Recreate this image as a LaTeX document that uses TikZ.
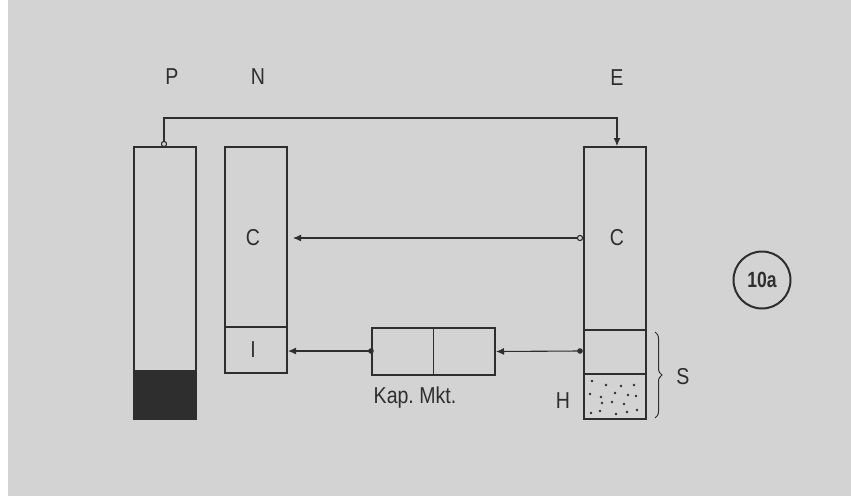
\documentclass[tikz,border=0pt]{standalone}
\usepackage{fontspec}
\setmainfont{Liberation Sans}
\usetikzlibrary{arrows.meta,decorations.pathreplacing,calc}
\definecolor{paper}{HTML}{D3D3D3}
\definecolor{ink}{HTML}{2E2E2E}
\tikzset{
  col/.style={draw=ink, line width=2pt, minimum width=62pt, inner sep=0pt, anchor=north west},
  conn/.style={draw=ink, line width=1.1pt, -{Latex[length=8pt,width=7pt]}},
  lbl/.style={text=ink, font=\fontsize{23}{23}\selectfont, inner sep=0pt, xscale=0.85},
}
\begin{document}
\begin{tikzpicture}[x=1pt,y=-1pt]
\useasboundingbox (0,0) rectangle (851,501);
\fill[white] (0,0) rectangle (851,501);
\fill[paper] (8,0) rectangle (851,496);

% columns
\node[col, minimum height=272pt] (P) at (133,146) {};
\fill[ink] (133,370) rectangle (195,418);
\node[col, minimum height=226pt] (N) at (224,146) {};
\draw[ink, line width=2pt] (224,327) -- (286,327);
\node[col, minimum height=272pt] (E) at (583,146) {};
\draw[ink, line width=2pt] (583,330) -- (645,330);
\draw[ink, line width=2pt] (583,374) -- (645,374);

% market box
\node[draw=ink, line width=2pt, minimum width=123pt, minimum height=47pt, inner sep=0pt, anchor=north west] (M) at (371,327) {};
\draw[ink, line width=1.6pt] (M.north) -- (M.south);

% dots in H
\foreach \p in {(592,381),(606,385),(621,386),(634,385),(590,394),(601,397),(615,393),(628,395),(602,403),(612,402),(624,404),(591,413),(600,411),(616,414),(627,412),(637,410),(636,396)}
  \fill[ink] \p circle (1.4pt);

% labels
\node[lbl] (lP) at (172,77) {P};
\node[lbl] (lN) at (258,77) {N};
\node[lbl] (lE) at (617,78) {E};
\node[lbl] (NC) at (253,238) {C};
\node[lbl] (NI) at (253,350) {I};
\node[lbl] (EC) at (617,238) {C};
\node[lbl] (km) at (415,398) {Kap.\ Mkt.};
\node[lbl] (lH) at (563,401) {H};
\node[lbl] (lS) at (683,377) {S};
\node[draw=ink, line width=2pt, circle, minimum size=57pt, inner sep=0pt] (ten) at (762,280) {};
\node[text=ink, font=\fontsize{22}{22}\selectfont\bfseries, inner sep=0pt, xscale=0.8] (tenlbl) at (ten.center) {10a};

% brace
\draw[ink, line width=1pt, decorate, decoration={brace, amplitude=7pt}] (655,332) -- (655,418) coordinate (bb);

% connectors
\coordinate (pt) at (164,143);
\coordinate (et) at (617,146);
\draw[conn] (pt) -- (164,118) -- (617,118) -- (et);
\draw[ink, line width=1.1pt, fill=paper] (164,144) circle (2.6pt);

\coordinate (ec) at (580,238);
\draw[conn] (ec) -- (293,238);
\draw[ink, line width=1.1pt, fill=paper] (ec) circle (2.6pt);

\coordinate (eh) at (580,351);
\draw[conn] (eh) -- (M.east);
\fill[ink] (eh) circle (2.8pt);

\coordinate (ml) at (371,351);
\draw[conn] (ml) -- (288,351);
\fill[ink] (ml) circle (2.8pt);
\end{tikzpicture}
\end{document}
